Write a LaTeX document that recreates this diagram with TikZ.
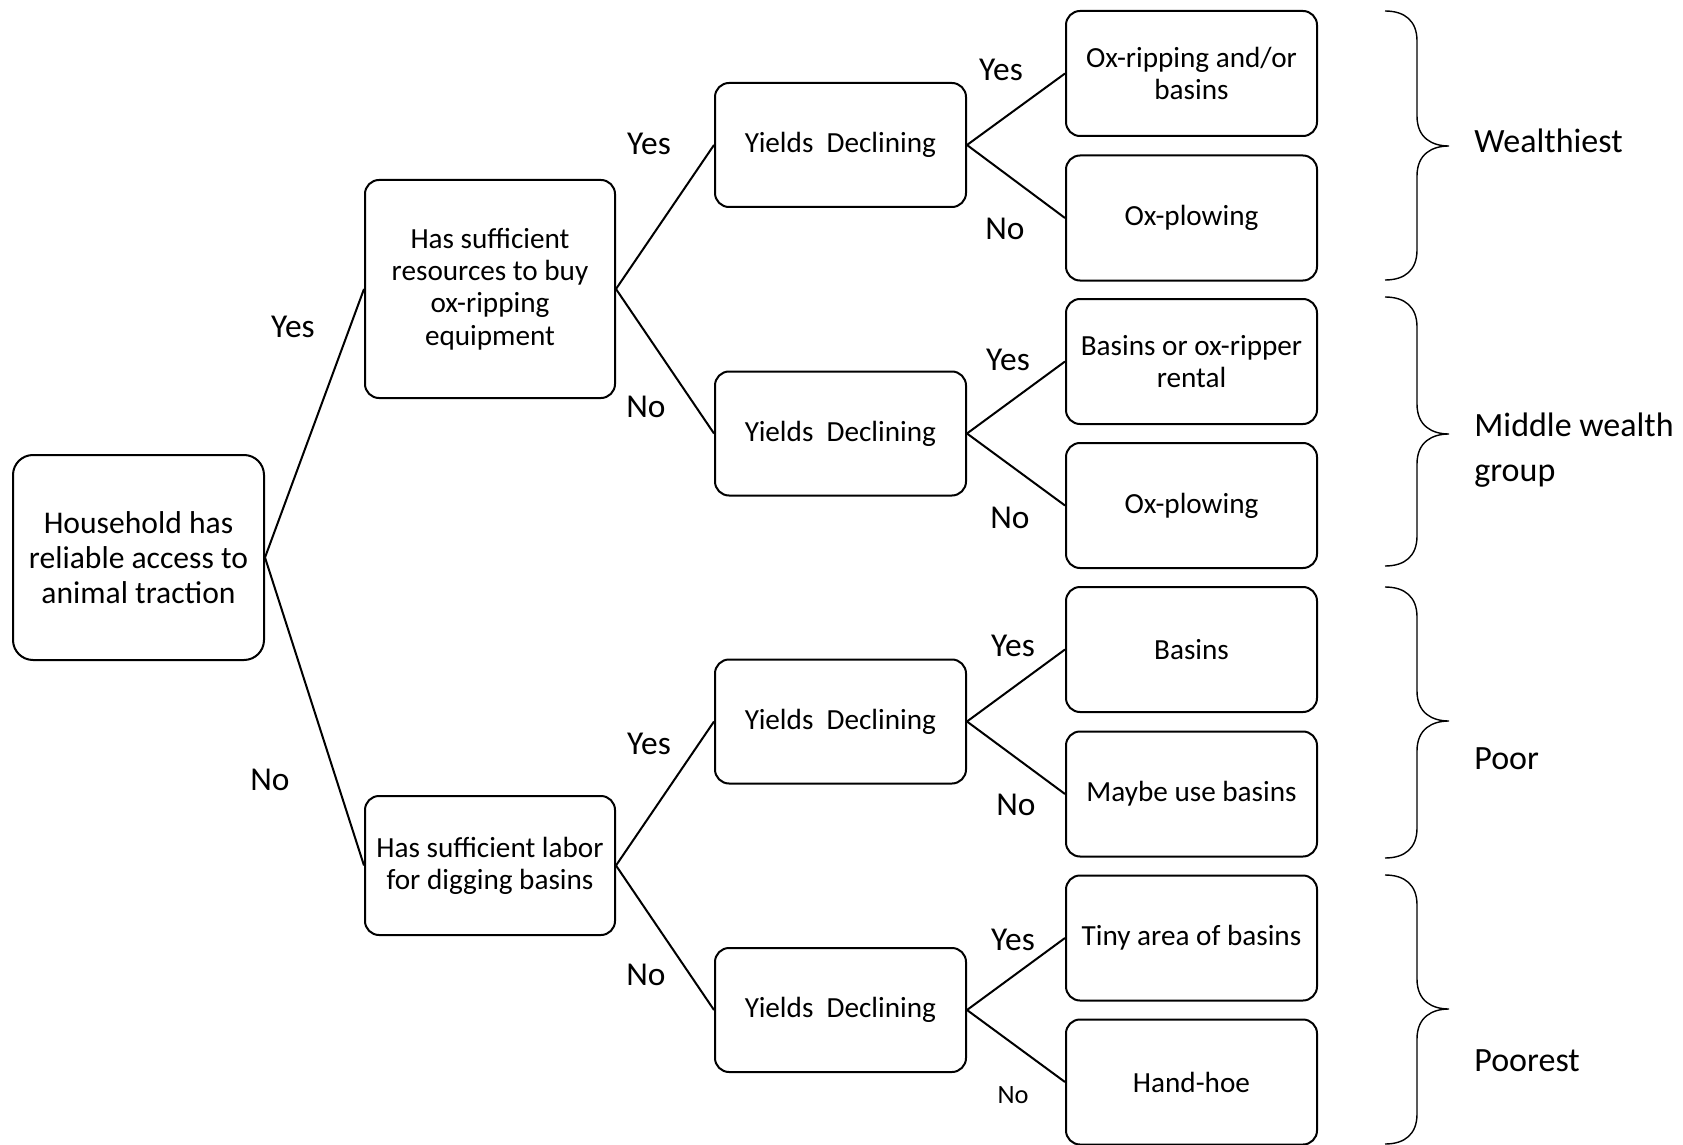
\documentclass[tikz,border=0pt]{standalone}
\usepackage{fontspec}
\setmainfont{Carlito}
\begin{document}
\begin{tikzpicture}[x=0.5pt,y=-0.5pt,
  box/.style={draw, line width=1pt, rounded corners=7pt, align=center, inner sep=0pt,
    minimum width=125.5pt, font=\fontsize{14.6}{16.1}\selectfont},
  conn/.style={line width=1pt},
  lbl/.style={inner sep=0pt, font=\fontsize{16.7}{20}\selectfont},
  grp/.style={inner sep=0pt, anchor=west, align=left, font=\fontsize{17}{22.5}\selectfont},
  brc/.style={line width=0.7pt}]
\useasboundingbox (0,0) rectangle (1683,1145);
% root
\node[box, rounded corners=10pt, minimum width=125.5pt, minimum height=102.5pt,
  font=\fontsize{15.8}{17.5}\selectfont] (root) at (138.5,557.5)
  {Household has\\reliable access to\\animal traction};
% second level
\node[box, minimum width=125pt, minimum height=109pt] (res) at (490,289)
  {Has sufficient\\resources to buy\\ox-ripping\\equipment};
\node[box, minimum width=125pt, minimum height=69.5pt] (lab) at (490,865.5)
  {Has sufficient labor\\for digging basins};
% yields
\node[box, minimum height=62pt] (y1) at (840.5,145) {Yields\ \ Declining};
\node[box, minimum height=62pt] (y2) at (840.5,433.5) {Yields\ \ Declining};
\node[box, minimum height=62pt] (y3) at (840.5,721.5) {Yields\ \ Declining};
\node[box, minimum height=62pt] (y4) at (840.5,1010) {Yields\ \ Declining};
% leaves
\node[box, minimum height=62.5pt] (l1) at (1191.5,73.5) {Ox-ripping and/or\\basins};
\node[box, minimum height=62.5pt] (l2) at (1191.5,218) {Ox-plowing};
\node[box, minimum height=62.5pt] (l3) at (1191.5,361.5) {Basins or ox-ripper\\rental};
\node[box, minimum height=62.5pt] (l4) at (1191.5,505.5) {Ox-plowing};
\node[box, minimum height=62.5pt] (l5) at (1191.5,649.5) {Basins};
\node[box, minimum height=62.5pt] (l6) at (1191.5,794) {Maybe use basins};
\node[box, minimum height=62.5pt] (l7) at (1191.5,938) {Tiny area of basins};
\node[box, minimum height=62.5pt] (l8) at (1191.5,1082) {Hand-hoe};
% connectors
\draw[conn] (root.east) -- (res.west);
\draw[conn] (root.east) -- (lab.west);
\draw[conn] (res.east) -- (y1.west);
\draw[conn] (res.east) -- (y2.west);
\draw[conn] (lab.east) -- (y3.west);
\draw[conn] (lab.east) -- (y4.west);
\draw[conn] (y1.east) -- (l1.west);
\draw[conn] (y1.east) -- (l2.west);
\draw[conn] (y2.east) -- (l3.west);
\draw[conn] (y2.east) -- (l4.west);
\draw[conn] (y3.east) -- (l5.west);
\draw[conn] (y3.east) -- (l6.west);
\draw[conn] (y4.east) -- (l7.west);
\draw[conn] (y4.east) -- (l8.west);
% edge labels
\node[lbl] (e1) at (293,327) {Yes};
\node[lbl] (e2) at (270,780) {No};
\node[lbl] (e3) at (649,144) {Yes};
\node[lbl] (e4) at (646,407) {No};
\node[lbl] (e5) at (649,744) {Yes};
\node[lbl] (e6) at (646,975) {No};
\node[lbl] (e7) at (1001,70) {Yes};
\node[lbl] (e8) at (1005,229) {No};
\node[lbl] (e9) at (1008,360) {Yes};
\node[lbl] (e10) at (1010,518) {No};
\node[lbl] (e11) at (1013,646) {Yes};
\node[lbl] (e12) at (1016,805) {No};
\node[lbl] (e13) at (1013,940) {Yes};
\node[lbl, font=\fontsize{13.2}{16}\selectfont] (e14) at (1013,1095) {No};
% braces
\foreach \T/\M/\B in {11/146/280, 297/434/566, 587/721/858, 875/1009/1144}{
  \draw[brc] (1385,\T) .. controls (1405,\T) and (1417,\T+10) .. (1417,\T+30)
    -- (1417,\M-30) .. controls (1417,\M-8) and (1432,\M) .. (1449,\M)
    .. controls (1432,\M) and (1417,\M+8) .. (1417,\M+30)
    -- (1417,\B-30) .. controls (1417,\B-10) and (1405,\B) .. (1385,\B);
}
% group labels
\node[grp] (g1) at (1474,141) {Wealthiest};
\node[grp] (g2) at (1474,450) {Middle wealth\\group};
\node[grp] (g3) at (1474,759) {Poor};
\node[grp] (g4) at (1474,1061) {Poorest};
\end{tikzpicture}
\end{document}
